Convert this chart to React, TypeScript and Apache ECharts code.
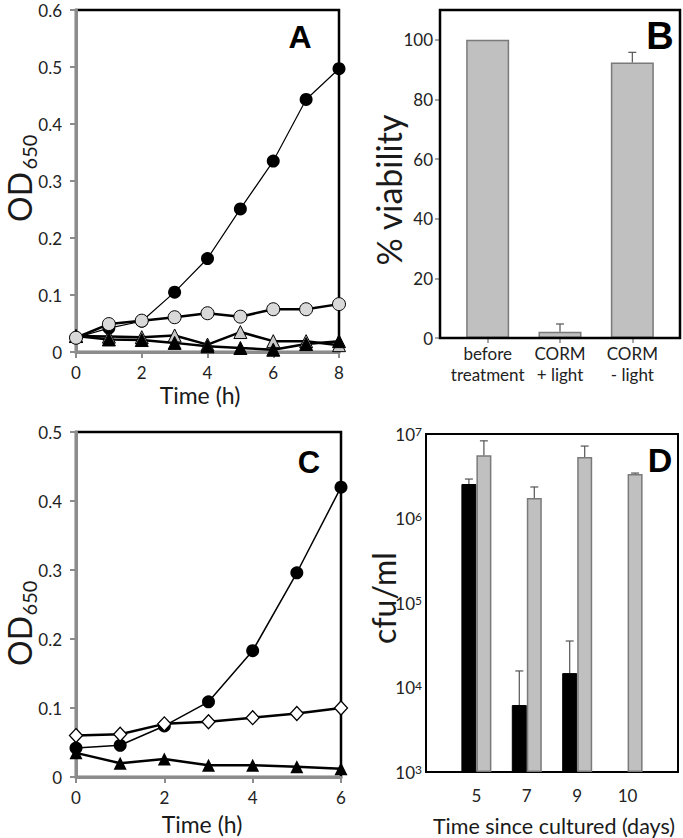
import React, { useEffect, useRef } from 'react';
import * as echarts from 'echarts';

// Panel A
const hoursA = [0, 1, 2, 3, 4, 5, 6, 7, 8];
const aBlackCircle = [0.025, 0.042, 0.054, 0.105, 0.164, 0.251, 0.335, 0.443, 0.497];
const aGrayCircle = [0.025, 0.049, 0.055, 0.061, 0.068, 0.062, 0.075, 0.075, 0.084];
const aGrayTriangle = [0.028, 0.027, 0.026, 0.029, 0.013, 0.035, 0.019, 0.019, 0.012];
const aBlackTriangle = [0.028, 0.022, 0.021, 0.016, 0.01, 0.007, 0.004, 0.014, 0.019];

// Panel B
const bCategories = ['before\ntreatment', 'CORM\n+ light', 'CORM\n- light'];
const bViability = [100, 2.1, 92.4];
const bErrorTop = [null, 4.7, 95.8];
const bTicks = [0, 20, 40, 60, 80, 100];

// Panel C
const hoursC = [0, 1, 2, 3, 4, 5, 6];
const cBlackCircle = [0.042, 0.046, 0.074, 0.109, 0.183, 0.296, 0.42];
const cDiamond = [0.06, 0.062, 0.077, 0.08, 0.086, 0.092, 0.1];
const cTriangle = [0.035, 0.02, 0.026, 0.017, 0.017, 0.015, 0.012];

// Panel D
const dDays = ['', '5', '7', '9', '10', ''];
const dBlack = [null, 2.56e6, 6.2e3, 1.48e4, null, null];
const dBlackErr = [null, 2.93e6, 1.57e4, 3.55e4, null, null];
const dGray = [null, 5.6e6, 1.75e6, 5.35e6, 3.37e6, null];
const dGrayErr = [null, 8.3e6, 2.36e6, 7.2e6, 3.45e6, null];

const FONT = 'Lato';
const TXT = '#222';
const GRAY_AXIS = '#8c8c8c';
const TICK_FS = 17;

function pairs(xs: number[], ys: number[]) {
  return xs.map((x, i) => [x, ys[i]]);
}

function errItems(vals: (number | null)[], tops: (number | null)[], offset: number) {
  const out: any[] = [];
  vals.forEach((v, i) => {
    const t = tops[i];
    if (v != null && t != null) out.push([i, v, t, offset]);
  });
  return out;
}

function errorRender(capHalf: number) {
  return (params: any, api: any) => {
    const p1 = api.coord([api.value(0), api.value(1)]);
    const p2 = api.coord([api.value(0), api.value(2)]);
    const off = api.value(3) || 0;
    const x = p1[0] + off;
    const st = { stroke: '#555', lineWidth: 1.2 };
    return {
      type: 'group',
      children: [
        { type: 'line', shape: { x1: x, y1: p1[1], x2: x, y2: p2[1] }, style: st },
        { type: 'line', shape: { x1: x - capHalf, y1: p2[1], x2: x + capHalf, y2: p2[1] }, style: st },
      ],
    };
  };
}

function grayValueAxis(extra: any) {
  return {
    type: 'value',
    axisLine: { show: true, lineStyle: { color: GRAY_AXIS, width: 3 } },
    axisTick: { show: true, length: 6, lineStyle: { color: GRAY_AXIS, width: 2 } },
    splitLine: { show: false },
    ...extra,
  };
}

function odLabel(v: number) {
  return v === 0 ? '0' : v.toFixed(1);
}

function text(t: string, x: number, y: number, fontSize: number, opts: any = {}) {
  return {
    type: 'text',
    x,
    y,
    rotation: opts.rotation || 0,
    z: 100,
    style: {
      text: t,
      fontSize,
      lineHeight: opts.lineHeight || Math.round(fontSize * 1.05),
      fontFamily: opts.fontFamily || FONT,
      fontWeight: opts.fontWeight || 'normal',
      fill: opts.fill || '#1a1a1a',
      align: 'center',
      verticalAlign: 'middle',
      textAlign: 'center',
      textVerticalAlign: 'middle',
    },
  };
}

const xLabel = { fontSize: TICK_FS, color: TXT, margin: 13, lineHeight: 15 };
const yLabel = { fontSize: TICK_FS, color: TXT, margin: 14, lineHeight: 15, formatter: odLabel };

export default function App() {
  const ref = useRef<HTMLDivElement>(null);
  useEffect(() => {
    if (!ref.current) return;
    const chart = echarts.init(ref.current, null, { renderer: 'svg' });
    const option: any = {
      animation: false,
      backgroundColor: '#fff',
      textStyle: { fontFamily: FONT },
      grid: [
        { left: 76, top: 10, width: 263, height: 342, show: true, borderColor: '#000', borderWidth: 2.5, backgroundColor: 'transparent' },
        { left: 451.5, top: 10, width: 217, height: 328, show: false },
        { left: 76, top: 432, width: 265, height: 345, show: true, borderColor: '#000', borderWidth: 2.5, backgroundColor: 'transparent' },
        { left: 426, top: 434, width: 252, height: 338, show: true, borderColor: '#000', borderWidth: 2, backgroundColor: 'transparent' },
      ],
      xAxis: [
        grayValueAxis({ gridIndex: 0, min: 0, max: 8, interval: 2, axisLabel: xLabel }),
        {
          gridIndex: 1,
          type: 'category',
          data: bCategories,
          axisLine: { show: true, lineStyle: { color: '#000', width: 2 } },
          axisTick: { show: true, alignWithLabel: true, length: 5, lineStyle: { color: GRAY_AXIS, width: 1.5 } },
          axisLabel: { fontSize: 17, color: TXT, margin: 5, lineHeight: 21, interval: 0 },
        },
        grayValueAxis({ gridIndex: 2, min: 0, max: 6, interval: 2, axisLabel: xLabel }),
        {
          gridIndex: 3,
          type: 'category',
          data: dDays,
          boundaryGap: false,
          axisLine: { show: true, lineStyle: { color: '#000', width: 2 } },
          axisTick: { show: false },
          axisLabel: { fontSize: TICK_FS, color: TXT, margin: 16, lineHeight: 15, interval: 0 },
        },
      ],
      yAxis: [
        grayValueAxis({ gridIndex: 0, min: 0, max: 0.6, interval: 0.1, axisLabel: yLabel }),
        {
          gridIndex: 1,
          type: 'value',
          min: 0,
          max: 110,
          offset: 11.5,
          axisLine: { show: true, lineStyle: { color: '#000', width: 2 } },
          axisTick: { show: true, length: 5, customValues: bTicks, lineStyle: { color: GRAY_AXIS, width: 1.5 } },
          axisLabel: { fontSize: TICK_FS, color: TXT, margin: 7, lineHeight: 15, customValues: bTicks },
          splitLine: { show: false },
        },
        grayValueAxis({ gridIndex: 2, min: 0, max: 0.5, interval: 0.1, axisLabel: yLabel }),
        {
          gridIndex: 3,
          type: 'log',
          logBase: 10,
          min: 1000,
          max: 1e7,
          startValue: 1000,
          axisLine: { show: true, lineStyle: { color: '#000', width: 2 } },
          axisTick: { show: false },
          splitLine: { show: false },
          minorTick: { show: false },
          axisLabel: {
            margin: 4,
            formatter: (v: number) => '{b|10}{s|' + Math.round(Math.log10(v)) + '}',
            rich: {
              b: { fontSize: TICK_FS, color: TXT, fontFamily: FONT },
              s: { fontSize: 12, color: TXT, fontFamily: FONT, verticalAlign: 'top' },
            },
          },
        },
      ],
      series: [
        // Panel A
        {
          type: 'line', xAxisIndex: 0, yAxisIndex: 0, data: pairs(hoursA, aGrayTriangle),
          symbol: 'triangle', symbolSize: 13,
          itemStyle: { color: '#c8c8c8', borderColor: '#000', borderWidth: 1 },
          lineStyle: { color: '#000', width: 2.5 },
        },
        {
          type: 'line', xAxisIndex: 0, yAxisIndex: 0, data: pairs(hoursA, aBlackTriangle),
          symbol: 'triangle', symbolSize: 13,
          itemStyle: { color: '#000', borderColor: '#000', borderWidth: 1 },
          lineStyle: { color: '#000', width: 2.5 },
        },
        {
          type: 'line', xAxisIndex: 0, yAxisIndex: 0, data: pairs(hoursA, aBlackCircle),
          symbol: 'circle', symbolSize: 13,
          itemStyle: { color: '#000' },
          lineStyle: { color: '#000', width: 1.2 },
        },
        {
          type: 'line', xAxisIndex: 0, yAxisIndex: 0, data: pairs(hoursA, aGrayCircle),
          symbol: 'circle', symbolSize: 13,
          itemStyle: { color: '#d9d9d9', borderColor: '#000', borderWidth: 1 },
          lineStyle: { color: '#000', width: 2.5 },
        },
        // Panel B
        {
          type: 'bar', xAxisIndex: 1, yAxisIndex: 1, data: bViability, barWidth: 43,
          itemStyle: { color: '#c0c0c0', borderColor: '#7a7a7a', borderWidth: 1.5 },
        },
        {
          type: 'custom', xAxisIndex: 1, yAxisIndex: 1, data: errItems(bViability, bErrorTop, 0),
          renderItem: errorRender(4), z: 5,
        },
        // Panel C
        {
          type: 'line', xAxisIndex: 2, yAxisIndex: 2, data: pairs(hoursC, cTriangle),
          symbol: 'triangle', symbolSize: 13,
          itemStyle: { color: '#000' },
          lineStyle: { color: '#000', width: 2.5 },
        },
        {
          type: 'line', xAxisIndex: 2, yAxisIndex: 2, data: pairs(hoursC, cBlackCircle),
          symbol: 'circle', symbolSize: 13,
          itemStyle: { color: '#000' },
          lineStyle: { color: '#000', width: 1.5 },
        },
        {
          type: 'line', xAxisIndex: 2, yAxisIndex: 2, data: pairs(hoursC, cDiamond),
          symbol: 'diamond', symbolSize: [13, 14],
          itemStyle: { color: '#fff', borderColor: '#000', borderWidth: 1.3 },
          lineStyle: { color: '#000', width: 2.5 },
        },
        // Panel D
        {
          type: 'bar', xAxisIndex: 3, yAxisIndex: 3, data: dBlack, barWidth: 15, barGap: '0%', clip: true,
          itemStyle: { color: '#000', borderColor: '#000', borderWidth: 1 },
        },
        {
          type: 'bar', xAxisIndex: 3, yAxisIndex: 3, data: dGray, barWidth: 15, barGap: '0%', clip: true,
          itemStyle: { color: '#c0c0c0', borderColor: '#7a7a7a', borderWidth: 1.5 },
        },
        {
          type: 'custom', xAxisIndex: 3, yAxisIndex: 3, data: errItems(dBlack, dBlackErr, -7.5),
          renderItem: errorRender(4), z: 5,
        },
        {
          type: 'custom', xAxisIndex: 3, yAxisIndex: 3, data: errItems(dGray, dGrayErr, 7.5),
          renderItem: errorRender(4), z: 5,
        },
      ],
      graphic: [
        { type: 'rect', z: 50, shape: { x: 440, y: 10, width: 240, height: 328 }, style: { fill: 'none', stroke: '#000', lineWidth: 2.5 } },
        text('OD', 19, 197, 32, { rotation: Math.PI / 2, lineHeight: 32 }),
        text('650', 29, 152, 20, { rotation: Math.PI / 2, lineHeight: 20 }),
        text('OD', 19, 641, 32, { rotation: Math.PI / 2, lineHeight: 32 }),
        text('650', 29, 598, 20, { rotation: Math.PI / 2, lineHeight: 20 }),
        text('% viability', 388, 190, 34, { rotation: Math.PI / 2 }),
        text('cfu/ml', 383, 598, 32, { rotation: Math.PI / 2 }),
        text('Time (h)', 200, 395, 23, { lineHeight: 22 }),
        text('Time (h)', 202, 824, 23, { lineHeight: 22 }),
        text('Time since cultured (days)', 554, 826, 21.5),
        text('A', 300, 37, 32, { fontWeight: 'bold', fontFamily: 'Liberation Sans', fill: '#000' }),
        text('B', 660, 36, 38, { fontWeight: 'bold', fontFamily: 'Liberation Sans', fill: '#000' }),
        text('C', 309, 462, 31, { fontWeight: 'bold', fontFamily: 'Liberation Sans', fill: '#000' }),
        text('D', 660, 460, 34, { fontWeight: 'bold', fontFamily: 'Liberation Sans', fill: '#000' }),
      ],
    };
    chart.setOption(option);
    return () => chart.dispose();
  }, []);
  return (
    <div
      ref={ref}
      style={{ position: 'absolute', left: 0, top: 0, width: 683, height: 838, background: '#fff' }}
    />
  );
}
